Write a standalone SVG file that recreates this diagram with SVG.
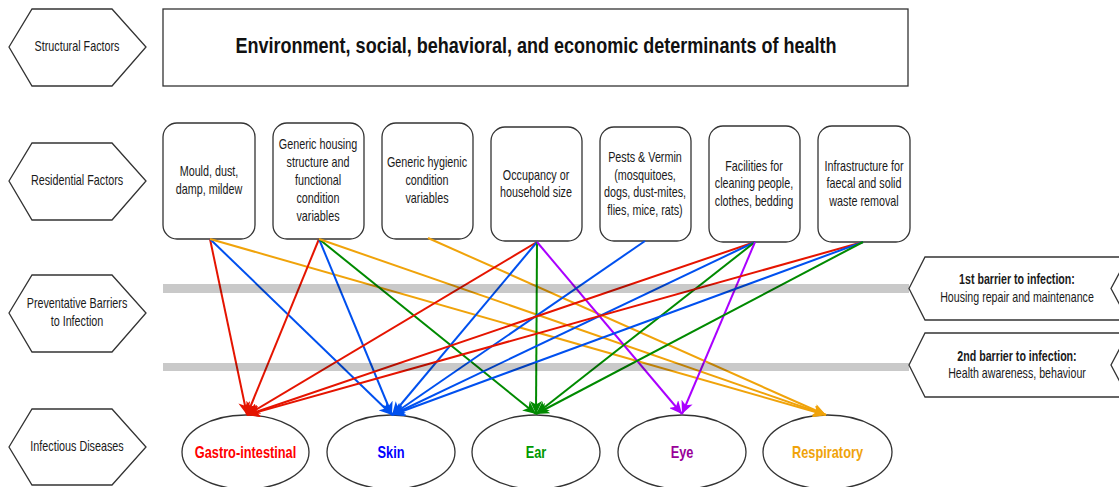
<svg xmlns="http://www.w3.org/2000/svg" width="1119" height="487" viewBox="0 0 1119 487">
  <style>
    .shape { fill: #ffffff; stroke: #333333; stroke-width: 1.3; }
    .lbl { font-family: "Liberation Sans", Arial, Helvetica, sans-serif; font-size: 14px; fill: #1a1a1a; text-anchor: middle; dominant-baseline: central; }
    .title { font-family: "Liberation Sans", Arial, Helvetica, sans-serif; font-size: 22px; font-weight: bold; fill: #111111; text-anchor: middle; dominant-baseline: central; }
    .bold { font-weight: bold; }
    .dis { font-family: "Liberation Sans", Arial, Helvetica, sans-serif; font-size: 16px; font-weight: bold; text-anchor: middle; dominant-baseline: central; }
    .bar { fill: #000000; fill-opacity: 0.21; }
    .c { fill: none; stroke-width: 2; }
    .red { stroke: #e51400; }
    .blue { stroke: #0050ef; }
    .green { stroke: #008a00; }
    .purple { stroke: #aa00ff; }
    .orange { stroke: #f0a30a; }
  </style>
  <defs>
    <marker id="ah-red" markerUnits="userSpaceOnUse" markerWidth="14" markerHeight="12" refX="13" refY="6" orient="auto" viewBox="0 0 14 12">
      <path d="M0,0 L13,6 L0,12 L3.5,6 Z" fill="#e51400"/>
    </marker>
    <marker id="ah-blue" markerUnits="userSpaceOnUse" markerWidth="14" markerHeight="12" refX="13" refY="6" orient="auto" viewBox="0 0 14 12">
      <path d="M0,0 L13,6 L0,12 L3.5,6 Z" fill="#0050ef"/>
    </marker>
    <marker id="ah-green" markerUnits="userSpaceOnUse" markerWidth="14" markerHeight="12" refX="13" refY="6" orient="auto" viewBox="0 0 14 12">
      <path d="M0,0 L13,6 L0,12 L3.5,6 Z" fill="#008a00"/>
    </marker>
    <marker id="ah-purple" markerUnits="userSpaceOnUse" markerWidth="14" markerHeight="12" refX="13" refY="6" orient="auto" viewBox="0 0 14 12">
      <path d="M0,0 L13,6 L0,12 L3.5,6 Z" fill="#aa00ff"/>
    </marker>
    <marker id="ah-orange" markerUnits="userSpaceOnUse" markerWidth="14" markerHeight="12" refX="13" refY="6" orient="auto" viewBox="0 0 14 12">
      <path d="M0,0 L13,6 L0,12 L3.5,6 Z" fill="#f0a30a"/>
    </marker>
  </defs>

  <rect width="1119" height="487" fill="#ffffff"/>

  <!-- Row labels (left hexagons); text is narrowed to a condensed face -->
  <g id="row-structural">
    <polygon class="shape" points="9,47 32,9 112,9 146,47 112,86 32,86"/>
    <g transform="translate(77,0) scale(0.77,1)">
      <text class="lbl" x="0" y="47">Structural Factors</text>
    </g>
  </g>
  <g id="row-residential">
    <polygon class="shape" points="9,181 32,143 112,143 146,181 112,220 32,220"/>
    <g transform="translate(77,0) scale(0.77,1)">
      <text class="lbl" x="0" y="181">Residential Factors</text>
    </g>
  </g>
  <g id="row-barriers">
    <polygon class="shape" points="9,313 32,275 112,275 146,313 112,352 32,352"/>
    <g transform="translate(77,0) scale(0.77,1)">
      <text class="lbl" x="0" y="304">Preventative Barriers</text>
      <text class="lbl" x="0" y="322">to Infection</text>
    </g>
  </g>
  <g id="row-diseases">
    <polygon class="shape" points="9,447 32,409 112,409 146,447 112,485 32,485"/>
    <g transform="translate(77,0) scale(0.77,1)">
      <text class="lbl" x="0" y="447">Infectious Diseases</text>
    </g>
  </g>

  <!-- Structural determinants -->
  <g id="determinants">
    <rect class="shape" x="163" y="9" width="745" height="77"/>
    <g transform="translate(536,0) scale(0.82,1)">
      <text class="title" x="0" y="45">Environment, social, behavioral, and economic determinants of health</text>
    </g>
  </g>

  <!-- Residential factor boxes -->
  <g id="mould">
    <rect class="shape" x="163" y="123" width="92" height="116" rx="14"/>
    <g transform="translate(209,0) scale(0.77,1)">
      <text class="lbl" x="0" y="172">Mould, dust,</text>
      <text class="lbl" x="0" y="190">damp, mildew</text>
    </g>
  </g>
  <g id="housing-structure">
    <rect class="shape" x="273" y="123" width="91" height="116" rx="14"/>
    <g transform="translate(318,0) scale(0.77,1)">
      <text class="lbl" x="0" y="145">Generic housing</text>
      <text class="lbl" x="0" y="163">structure and</text>
      <text class="lbl" x="0" y="181">functional</text>
      <text class="lbl" x="0" y="199">condition</text>
      <text class="lbl" x="0" y="217">variables</text>
    </g>
  </g>
  <g id="hygienic">
    <rect class="shape" x="382" y="123" width="91" height="116" rx="14"/>
    <g transform="translate(427,0) scale(0.77,1)">
      <text class="lbl" x="0" y="163">Generic hygienic</text>
      <text class="lbl" x="0" y="181">condition</text>
      <text class="lbl" x="0" y="199">variables</text>
    </g>
  </g>
  <g id="occupancy">
    <rect class="shape" x="491" y="127" width="91" height="114" rx="14"/>
    <g transform="translate(536,0) scale(0.77,1)">
      <text class="lbl" x="0" y="176">Occupancy or</text>
      <text class="lbl" x="0" y="193">household size</text>
    </g>
  </g>
  <g id="pests">
    <rect class="shape" x="600" y="127" width="91" height="114" rx="14"/>
    <g transform="translate(645,0) scale(0.77,1)">
      <text class="lbl" x="0" y="158">Pests &amp; Vermin</text>
      <text class="lbl" x="0" y="176">(mosquitoes,</text>
      <text class="lbl" x="0" y="193">dogs, dust-mites,</text>
      <text class="lbl" x="0" y="211">flies, mice, rats)</text>
    </g>
  </g>
  <g id="cleaning">
    <rect class="shape" x="709" y="126" width="91" height="116" rx="14"/>
    <g transform="translate(754,0) scale(0.77,1)">
      <text class="lbl" x="0" y="167">Facilities for</text>
      <text class="lbl" x="0" y="184">cleaning people,</text>
      <text class="lbl" x="0" y="202">clothes, bedding</text>
    </g>
  </g>
  <g id="waste">
    <rect class="shape" x="818" y="126" width="92" height="116" rx="14"/>
    <g transform="translate(864,0) scale(0.77,1)">
      <text class="lbl" x="0" y="167">Infrastructure for</text>
      <text class="lbl" x="0" y="184">faecal and solid</text>
      <text class="lbl" x="0" y="202">waste removal</text>
    </g>
  </g>

  <!-- Barrier labels (right chevrons) -->
  <g id="barrier-1">
    <polygon class="shape" points="909,288.5 925,257 1128,257 1111,288.5 1128,320 925,320"/>
    <g transform="translate(1017,0) scale(0.76,1)">
      <text class="lbl bold" x="0" y="280">1st barrier to infection:</text>
      <text class="lbl" x="0" y="298">Housing repair and maintenance</text>
    </g>
  </g>
  <g id="barrier-2">
    <polygon class="shape" points="909,365 925,333 1128,333 1111,365 1128,397 925,397"/>
    <g transform="translate(1017,0) scale(0.76,1)">
      <text class="lbl bold" x="0" y="357">2nd barrier to infection:</text>
      <text class="lbl" x="0" y="374">Health awareness, behaviour</text>
    </g>
  </g>

  <!-- Infectious disease nodes -->
  <g id="gastro">
    <ellipse class="shape" cx="245.5" cy="452" rx="63.5" ry="37"/>
    <g transform="translate(245.5,0) scale(0.8,1)">
      <text class="dis" x="0" y="452" fill="#ff0000">Gastro-intestinal</text>
    </g>
  </g>
  <g id="skin">
    <ellipse class="shape" cx="391" cy="452" rx="64" ry="37"/>
    <g transform="translate(391,0) scale(0.8,1)">
      <text class="dis" x="0" y="452" fill="#0000ff">Skin</text>
    </g>
  </g>
  <g id="ear">
    <ellipse class="shape" cx="536" cy="452" rx="64" ry="37"/>
    <g transform="translate(536,0) scale(0.8,1)">
      <text class="dis" x="0" y="452" fill="#009900">Ear</text>
    </g>
  </g>
  <g id="eye">
    <ellipse class="shape" cx="682" cy="452" rx="64" ry="37"/>
    <g transform="translate(682,0) scale(0.8,1)">
      <text class="dis" x="0" y="452" fill="#990099">Eye</text>
    </g>
  </g>
  <g id="respiratory">
    <ellipse class="shape" cx="827.5" cy="452" rx="64.5" ry="37"/>
    <g transform="translate(827.5,0) scale(0.8,1)">
      <text class="dis" x="0" y="452" fill="#f0a30a">Respiratory</text>
    </g>
  </g>

  <!-- Connectors: residential factors to diseases -->
  <g id="connectors">
    <!-- Mould, dust, damp, mildew -->
    <line class="c red" x1="210" y1="239" x2="247" y2="415" marker-end="url(#ah-red)"/>
    <line class="c blue" x1="210" y1="239" x2="392" y2="415" marker-end="url(#ah-blue)"/>
    <line class="c orange" x1="210" y1="239" x2="826" y2="415" marker-end="url(#ah-orange)"/>
    <!-- Generic housing structure -->
    <line class="c red" x1="319" y1="239" x2="247" y2="415" marker-end="url(#ah-red)"/>
    <line class="c blue" x1="319" y1="239" x2="392" y2="415" marker-end="url(#ah-blue)"/>
    <line class="c green" x1="319" y1="239" x2="536" y2="414" marker-end="url(#ah-green)"/>
    <line class="c orange" x1="319" y1="239" x2="826" y2="415" marker-end="url(#ah-orange)"/>
    <!-- Generic hygienic condition -->
    <line class="c orange" x1="428" y1="238" x2="826" y2="415" marker-end="url(#ah-orange)"/>
    <!-- Occupancy -->
    <line class="c red" x1="537" y1="242" x2="247" y2="415" marker-end="url(#ah-red)"/>
    <line class="c blue" x1="537" y1="242" x2="392" y2="415" marker-end="url(#ah-blue)"/>
    <line class="c green" x1="537" y1="242" x2="536" y2="414" marker-end="url(#ah-green)"/>
    <line class="c purple" x1="537" y1="242" x2="682" y2="414" marker-end="url(#ah-purple)"/>
    <!-- Pests & vermin -->
    <line class="c blue" x1="645" y1="241" x2="392" y2="415" marker-end="url(#ah-blue)"/>
    <!-- Cleaning facilities -->
    <line class="c red" x1="755" y1="242" x2="247" y2="415" marker-end="url(#ah-red)"/>
    <line class="c blue" x1="755" y1="242" x2="392" y2="415" marker-end="url(#ah-blue)"/>
    <line class="c green" x1="755" y1="242" x2="536" y2="414" marker-end="url(#ah-green)"/>
    <line class="c purple" x1="755" y1="242" x2="682" y2="414" marker-end="url(#ah-purple)"/>
    <!-- Waste removal -->
    <line class="c red" x1="863" y1="242" x2="247" y2="415" marker-end="url(#ah-red)"/>
    <line class="c blue" x1="863" y1="242" x2="392" y2="415" marker-end="url(#ah-blue)"/>
    <line class="c green" x1="863" y1="242" x2="536" y2="414" marker-end="url(#ah-green)"/>
  </g>

  <!-- Translucent barrier bands laid over the connectors -->
  <g id="barrier-bands">
    <rect class="bar" x="163" y="284" width="746" height="9"/>
    <rect class="bar" x="163" y="363" width="746" height="8"/>
  </g>
</svg>
